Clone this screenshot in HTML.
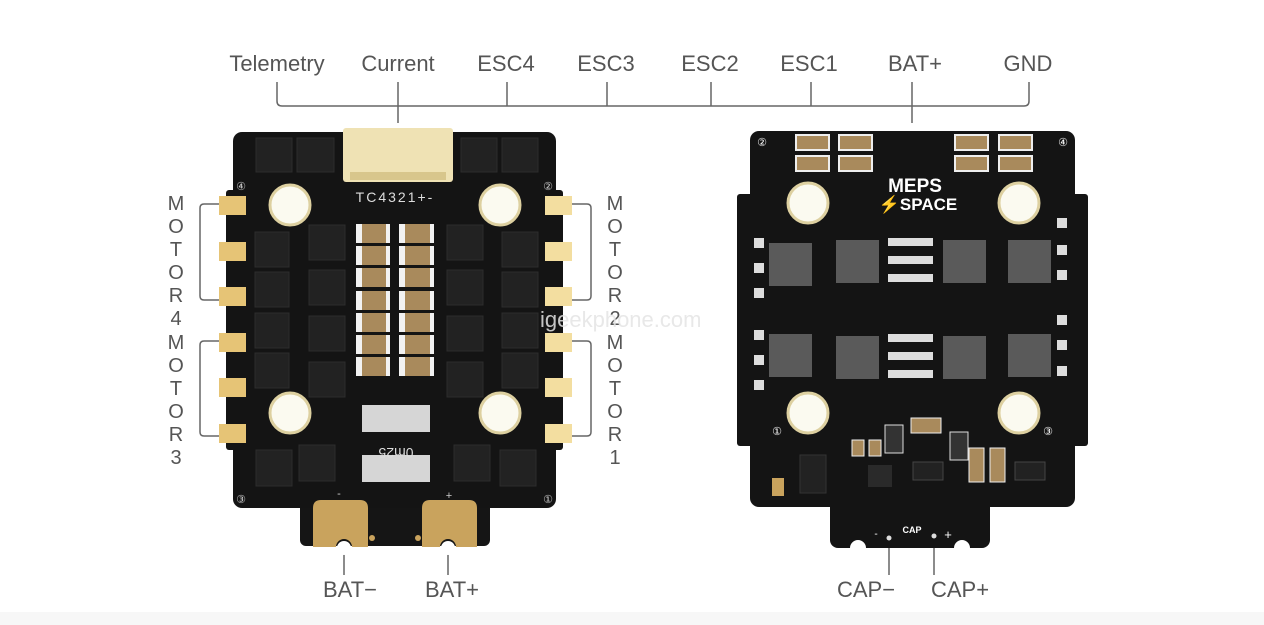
<!DOCTYPE html>
<html><head><meta charset="utf-8"><style>
html,body{margin:0;padding:0;background:#fff;}
svg{display:block;}
text{font-family:"Liberation Sans",sans-serif;}
</style></head><body>
<svg width="1264" height="625" viewBox="0 0 1264 625" xmlns="http://www.w3.org/2000/svg">
<rect width="1264" height="625" fill="#fff"/>
<rect y="612" width="1264" height="13" fill="#f7f7f7"/>
<!-- top labels -->
<g fill="#555" font-size="22" text-anchor="middle">
<text x="277" y="71">Telemetry</text>
<text x="398" y="71">Current</text>
<text x="506" y="71">ESC4</text>
<text x="606" y="71">ESC3</text>
<text x="710" y="71">ESC2</text>
<text x="809" y="71">ESC1</text>
<text x="915" y="71">BAT+</text>
<text x="1028" y="71">GND</text>
</g>
<g stroke="#666" stroke-width="1.5" fill="none">
<path d="M277 82 V101 Q277 106 282 106 H1024 Q1029 106 1029 101 V82"/>
<path d="M398 82 V123"/><path d="M507 82 V106"/><path d="M607 82 V106"/>
<path d="M711 82 V106"/><path d="M811 82 V106"/><path d="M912 82 V123"/>
<path d="M219 204 H204 Q200 204 200 208 V296 Q200 300 204 300 H219"/>
<path d="M219 341 H204 Q200 341 200 345 V432 Q200 436 204 436 H219"/>
<path d="M572 204 H587 Q591 204 591 208 V296 Q591 300 587 300 H572"/>
<path d="M572 341 H587 Q591 341 591 345 V432 Q591 436 587 436 H572"/>
<path d="M344 540 V575"/><path d="M448 540 V575"/>
<path d="M889 540 V575"/><path d="M934 540 V575"/>
</g>
<g fill="#555" font-size="20" text-anchor="middle">
<text x="176" y="210">M</text><text x="176" y="233">O</text><text x="176" y="256">T</text><text x="176" y="279">O</text><text x="176" y="302">R</text><text x="176" y="325">4</text>
<text x="176" y="349">M</text><text x="176" y="372">O</text><text x="176" y="395">T</text><text x="176" y="418">O</text><text x="176" y="441">R</text><text x="176" y="464">3</text>
<text x="615" y="210">M</text><text x="615" y="233">O</text><text x="615" y="256">T</text><text x="615" y="279">O</text><text x="615" y="302">R</text><text x="615" y="325">2</text>
<text x="615" y="349">M</text><text x="615" y="372">O</text><text x="615" y="395">T</text><text x="615" y="418">O</text><text x="615" y="441">R</text><text x="615" y="464">1</text>
</g>
<g fill="#555" font-size="22" text-anchor="middle">
<text x="350" y="597">BAT−</text><text x="452" y="597">BAT+</text>
<text x="866" y="597">CAP−</text><text x="960" y="597">CAP+</text>
</g>

<!-- LEFT BOARD -->
<rect x="300" y="480" width="190" height="66" rx="6" fill="#151515"/>
<rect x="233" y="132" width="323" height="376" rx="9" fill="#141414"/>
<rect x="226" y="190" width="337" height="260" rx="3" fill="#141414"/>
<rect x="343" y="128" width="110" height="54" rx="3" fill="#efe2b4"/>
<rect x="350" y="172" width="96" height="8" fill="#d8c68c"/>
<text x="395" y="202" fill="#ddd" font-size="14" text-anchor="middle" letter-spacing="2">TC4321+-</text>
<g fill="#e6c476">
<rect x="219" y="196" width="27" height="19"/><rect x="219" y="242" width="27" height="19"/><rect x="219" y="287" width="27" height="19"/>
<rect x="219" y="333" width="27" height="19"/><rect x="219" y="378" width="27" height="19"/><rect x="219" y="424" width="27" height="19"/>
</g>
<g fill="#f3dea0">
<rect x="545" y="196" width="27" height="19"/><rect x="545" y="242" width="27" height="19"/><rect x="545" y="287" width="27" height="19"/>
<rect x="545" y="333" width="27" height="19"/><rect x="545" y="378" width="27" height="19"/><rect x="545" y="424" width="27" height="19"/>
</g>
<g fill="#222" stroke="#2c2c2c">
<rect x="256" y="138" width="36" height="34"/><rect x="297" y="138" width="37" height="34"/><rect x="461" y="138" width="36" height="34"/><rect x="502" y="138" width="36" height="34"/>
<rect x="255" y="232" width="34" height="35"/><rect x="309" y="225" width="36" height="35"/><rect x="447" y="225" width="36" height="35"/><rect x="502" y="232" width="36" height="35"/>
<rect x="255" y="272" width="34" height="35"/><rect x="309" y="270" width="36" height="35"/><rect x="447" y="270" width="36" height="35"/><rect x="502" y="272" width="36" height="35"/>
<rect x="255" y="313" width="34" height="35"/><rect x="309" y="316" width="36" height="35"/><rect x="447" y="316" width="36" height="35"/><rect x="502" y="313" width="36" height="35"/>
<rect x="255" y="353" width="34" height="35"/><rect x="309" y="362" width="36" height="35"/><rect x="447" y="362" width="36" height="35"/><rect x="502" y="353" width="36" height="35"/>
<rect x="256" y="450" width="36" height="36"/><rect x="299" y="445" width="36" height="36"/><rect x="454" y="445" width="36" height="36"/><rect x="500" y="450" width="36" height="36"/>
</g>
<g fill="#f2f2f2">
<rect x="356" y="224" width="34" height="19"/><rect x="399" y="224" width="35" height="19"/>
<rect x="356" y="246" width="34" height="19"/><rect x="399" y="246" width="35" height="19"/>
<rect x="356" y="268" width="34" height="19"/><rect x="399" y="268" width="35" height="19"/>
<rect x="356" y="291" width="34" height="19"/><rect x="399" y="291" width="35" height="19"/>
<rect x="356" y="313" width="34" height="19"/><rect x="399" y="313" width="35" height="19"/>
<rect x="356" y="335" width="34" height="19"/><rect x="399" y="335" width="35" height="19"/>
<rect x="356" y="357" width="34" height="19"/><rect x="399" y="357" width="35" height="19"/>
</g>
<g fill="#a98a5c">
<rect x="362" y="224" width="24" height="19"/><rect x="405" y="224" width="25" height="19"/>
<rect x="362" y="246" width="24" height="19"/><rect x="405" y="246" width="25" height="19"/>
<rect x="362" y="268" width="24" height="19"/><rect x="405" y="268" width="25" height="19"/>
<rect x="362" y="291" width="24" height="19"/><rect x="405" y="291" width="25" height="19"/>
<rect x="362" y="313" width="24" height="19"/><rect x="405" y="313" width="25" height="19"/>
<rect x="362" y="335" width="24" height="19"/><rect x="405" y="335" width="25" height="19"/>
<rect x="362" y="357" width="24" height="19"/><rect x="405" y="357" width="25" height="19"/>
</g>
<rect x="362" y="405" width="68" height="27" fill="#d6d6d6"/>
<rect x="362" y="455" width="68" height="27" fill="#d6d6d6"/>
<text x="396" y="438" fill="#ddd" font-size="14" text-anchor="middle" transform="rotate(180 396 443)">0m25</text>
<g fill="#fbfaf0" stroke="#ddd0a0" stroke-width="3">
<circle cx="290" cy="205" r="20"/><circle cx="500" cy="205" r="20"/><circle cx="290" cy="413" r="20"/><circle cx="500" cy="413" r="20"/>
</g>
<g fill="#ccc" font-size="11" text-anchor="middle">
<text x="241" y="190">④</text><text x="548" y="190">②</text><text x="241" y="503">③</text><text x="548" y="503">①</text>
<text x="339" y="497">-</text><text x="449" y="499">+</text>
</g>
<path d="M313 508 Q313 500 321 500 H360 Q368 500 368 508 V547 H352 A8 8 0 0 0 336 547 H313 Z" fill="#c9a35d"/>
<path d="M422 508 Q422 500 430 500 H469 Q477 500 477 508 V547 H456 A8 8 0 0 0 440 547 H422 Z" fill="#c9a35d"/>
<g fill="#fff"><circle cx="344" cy="548" r="7"/><circle cx="448" cy="548" r="7"/></g>
<g fill="#c9a35d"><circle cx="372" cy="538" r="3"/><circle cx="418" cy="538" r="3"/></g>

<!-- RIGHT BOARD -->
<rect x="830" y="470" width="160" height="78" rx="8" fill="#141414"/>
<g fill="#fff"><circle cx="858" cy="548" r="8"/><circle cx="962" cy="548" r="8"/></g>
<rect x="750" y="131" width="325" height="376" rx="9" fill="#141414"/>
<rect x="737" y="194" width="351" height="252" rx="3" fill="#141414"/>
<g fill="#fff" font-size="11" text-anchor="middle">
<text x="762" y="146">②</text><text x="1063" y="146">④</text><text x="777" y="435">①</text><text x="1048" y="435">③</text>
</g>
<g fill="#a98a5c" stroke="#eee" stroke-width="2">
<rect x="796" y="135" width="33" height="15"/><rect x="839" y="135" width="33" height="15"/><rect x="955" y="135" width="33" height="15"/><rect x="999" y="135" width="33" height="15"/>
<rect x="796" y="156" width="33" height="15"/><rect x="839" y="156" width="33" height="15"/><rect x="955" y="156" width="33" height="15"/><rect x="999" y="156" width="33" height="15"/>
</g>
<text x="915" y="192" fill="#fff" font-size="19" font-weight="bold" text-anchor="middle">MEPS</text>
<text x="918" y="210" fill="#fff" font-size="17" font-weight="bold" text-anchor="middle">⚡SPACE</text>
<g fill="#fbfaf0" stroke="#ddd0a0" stroke-width="3">
<circle cx="808" cy="203" r="20"/><circle cx="1019" cy="203" r="20"/><circle cx="808" cy="413" r="20"/><circle cx="1019" cy="413" r="20"/>
</g>
<g fill="#5a5a5a">
<rect x="769" y="243" width="43" height="43"/><rect x="836" y="240" width="43" height="43"/><rect x="943" y="240" width="43" height="43"/><rect x="1008" y="240" width="43" height="43"/>
<rect x="769" y="334" width="43" height="43"/><rect x="836" y="336" width="43" height="43"/><rect x="943" y="336" width="43" height="43"/><rect x="1008" y="334" width="43" height="43"/>
</g>
<g fill="#ddd">
<rect x="888" y="238" width="45" height="8"/><rect x="888" y="256" width="45" height="8"/><rect x="888" y="274" width="45" height="8"/>
<rect x="888" y="334" width="45" height="8"/><rect x="888" y="352" width="45" height="8"/><rect x="888" y="370" width="45" height="8"/>
<rect x="754" y="238" width="10" height="10"/><rect x="754" y="263" width="10" height="10"/><rect x="754" y="288" width="10" height="10"/>
<rect x="754" y="330" width="10" height="10"/><rect x="754" y="355" width="10" height="10"/><rect x="754" y="380" width="10" height="10"/>
<rect x="1057" y="218" width="10" height="10"/><rect x="1057" y="245" width="10" height="10"/><rect x="1057" y="270" width="10" height="10"/>
<rect x="1057" y="315" width="10" height="10"/><rect x="1057" y="340" width="10" height="10"/><rect x="1057" y="366" width="10" height="10"/>
</g>
<rect x="911" y="418" width="30" height="15" fill="#a98a5c" stroke="#eee"/>
<rect x="885" y="425" width="18" height="28" fill="#333" stroke="#ddd"/>
<rect x="950" y="432" width="18" height="28" fill="#333" stroke="#ddd"/>
<rect x="969" y="448" width="15" height="34" fill="#a98a5c" stroke="#eee"/>
<rect x="990" y="448" width="15" height="34" fill="#a98a5c" stroke="#eee"/>
<rect x="852" y="440" width="12" height="16" fill="#a98a5c" stroke="#eee"/>
<rect x="869" y="440" width="12" height="16" fill="#a98a5c" stroke="#eee"/>
<rect x="800" y="455" width="26" height="38" fill="#222" stroke="#333"/>
<rect x="868" y="465" width="24" height="22" fill="#2a2a2a"/>
<rect x="913" y="462" width="30" height="18" fill="#222" stroke="#444"/>
<rect x="1015" y="462" width="30" height="18" fill="#222" stroke="#444"/>
<rect x="772" y="478" width="12" height="18" fill="#c9a35d"/>
<text x="912" y="533" fill="#fff" font-size="9" font-weight="bold" text-anchor="middle">CAP</text>
<text x="876" y="537" fill="#fff" font-size="10" text-anchor="middle">-</text>
<text x="948" y="539" fill="#fff" font-size="13" text-anchor="middle">+</text>
<circle cx="889" cy="538" r="2.5" fill="#ddd"/><circle cx="934" cy="536" r="2.5" fill="#ddd"/>
<text x="540" y="327" fill="#e4e4e4" fill-opacity="0.85" font-size="22" text-anchor="start">igeekphone.com</text>
</svg>
</body></html>
